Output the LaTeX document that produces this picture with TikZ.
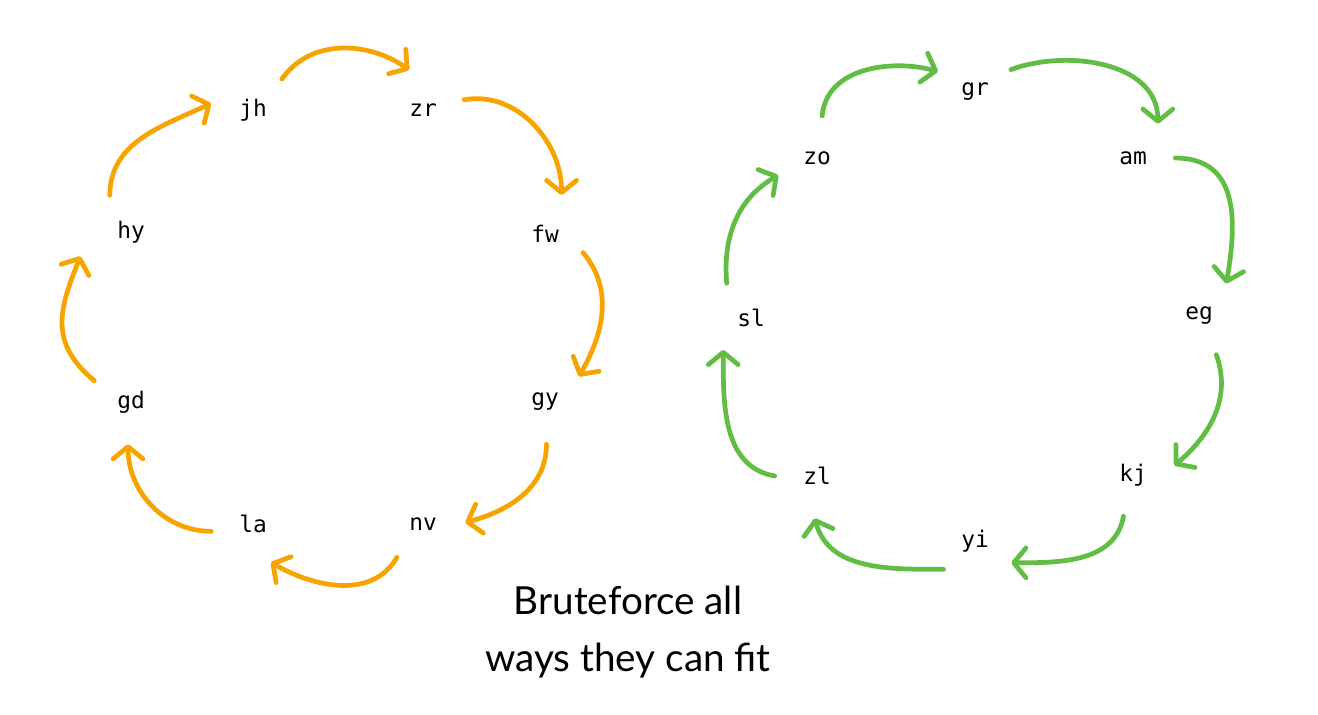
\documentclass[tikz,border=0pt]{standalone}
\usepackage{fontspec}
\newfontfamily\codefont{DejaVu Sans Mono}
\newfontfamily\notefont{Lato}
\usetikzlibrary{arrows.meta}
\definecolor{ringorange}{HTML}{F7A300}
\definecolor{ringgreen}{HTML}{62BD45}
\begin{document}
\begin{tikzpicture}[x=0.02cm, y=0.02cm,
	tag/.style={circle, minimum size=1.68cm, inner sep=0pt, font=\codefont\fontsize{13}{15}\selectfont},
	link/.style={line width=2.7pt, line cap=round, line join=round, -{Straight Barb[length=7pt,width=17pt,round]}}]
	\useasboundingbox (0,0) rectangle (1318,-715);
	% left ring
	\node[tag] (jh) at (253,-110) {jh};
	\node[tag] (zr) at (423,-110) {zr};
	\node[tag] (fw) at (545,-234) {fw};
	\node[tag] (gy) at (545,-402) {gy};
	\node[tag] (nv) at (423,-524) {nv};
	\node[tag] (la) at (253,-524) {la};
	\node[tag] (gd) at (131,-402) {gd};
	\node[tag] (hy) at (131,-232) {hy};
	\begin{scope}[ringorange]
	\draw[link] (jh.47) to[out=55,in=145] (zr.109);
	\draw[link] (zr.14) to[out=10,in=90] (fw.67);
	\draw[link] (fw.-26) to[out=-50,in=60] (gy.37);
	\draw[link] (gy.-88) to[out=-90,in=15] (nv.2);
	\draw[link] (nv.-128) to[out=-120,in=-30] (la.-65);
	\draw[link] (la.190) to[out=180,in=-90] (gd.-94);
	\draw[link] (gd.150) to[out=140,in=-112,looseness=1.2] ([xshift=-9pt]hy.215);
	\draw[link] (hy.120) to[out=90,in=205] (jh.171);
	\end{scope}
	% right ring
	\node[tag] (gr) at (975,-92) {gr};
	\node[tag] (am) at (1133,-158) {am};
	\node[tag] (eg) at (1199,-316) {eg};
	\node[tag] (kj) at (1133,-475) {kj};
	\node[tag] (yi) at (975,-541) {yi};
	\node[tag] (zl) at (817,-476) {zl};
	\node[tag] (sl) at (751,-318) {sl};
	\node[tag] (zo) at (817,-158) {zo};
	\begin{scope}[ringgreen]
	\draw[link] (zo.83) to[out=85,in=165] (gr.151);
	\draw[link] (gr.32) to[out=20,in=90] (am.54);
	\draw[link] (am.0) to[out=0,in=80,looseness=1.2] (eg.50);
	\draw[link] (eg.-66) to[out=-70,in=40] (kj.13);
	\draw[link] (kj.-103) to[out=-100,in=0] (yi.-31);
	\draw[link] (yi.-138) to[out=180,in=-75] (zl.-93);
	\draw[link] (zl.180) to[out=170,in=-90] (sl.-131);
	\draw[link] (sl.125) to[out=95,in=210] (zo.204);
	\end{scope}
	\node[align=center, font=\notefont\fontsize{22}{32}\selectfont] (note) at (628,-632) {Bruteforce all\\ways they can fit};
\end{tikzpicture}
\end{document}
